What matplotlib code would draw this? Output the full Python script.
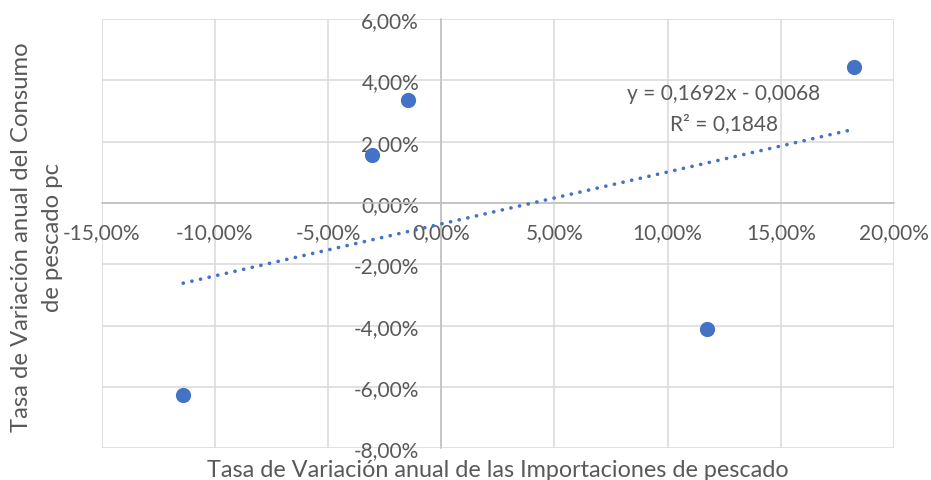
import numpy as np
import matplotlib.pyplot as plt
from matplotlib.ticker import FuncFormatter, MultipleLocator

# tasas de variacion anual (fraccion)
importaciones = [-0.1140, -0.0307, -0.0146, 0.1172, 0.1823]
consumo = [-0.0626, 0.0155, 0.0337, -0.0412, 0.0442]

eq_text = "y = 0,1692x - 0,0068"
r2_text = "R² = 0,1848"
xlabel = "Tasa de Variación anual de las Importaciones de pescado"
ylabel1 = "Tasa de Variación anual del Consumo"
ylabel2 = "de pescado pc"

azul = '#4472C4'
gris = '#595959'

plt.rcParams['font.family'] = ['Lato', 'DejaVu Sans']

fig = plt.figure(figsize=(9.31, 4.81), dpi=100)
ax = fig.add_axes([101.7 / 931, 1 - 449.3 / 481, (894 - 101.7) / 931, (449.3 - 20) / 481])

ax.set_xlim(-0.15, 0.20)
ax.set_ylim(-0.08, 0.06)
ax.xaxis.set_major_locator(MultipleLocator(0.05))
ax.yaxis.set_major_locator(MultipleLocator(0.02))
fmt = FuncFormatter(lambda v, p: ('%.2f%%' % (v * 100)).replace('.', ','))
ax.xaxis.set_major_formatter(fmt)
ax.yaxis.set_major_formatter(fmt)

ax.grid(True, color='#d9d9d9', linewidth=1.1)
for s in ['top', 'right']:
    ax.spines[s].set_visible(False)
ax.spines['left'].set_position(('data', 0))
ax.spines['bottom'].set_position(('data', 0))
ax.spines['left'].set_color('#bfbfbf')
ax.spines['bottom'].set_color('#bfbfbf')
ax.spines['left'].set_linewidth(1.1)
ax.spines['bottom'].set_linewidth(1.1)
ax.tick_params(axis='x', length=0, pad=14, labelsize=15, labelcolor=gris)
ax.tick_params(axis='y', length=0, pad=16, labelsize=15, labelcolor=gris)

ax.scatter(importaciones, consumo, s=120, color=azul, zorder=4, linewidths=0)

# linea de tendencia
x = np.array(importaciones)
b, a = np.polyfit(x, consumo, 1)
xt = np.array([x.min(), x.max()])
ax.plot(xt, b * xt + a, color=azul, linewidth=2.6, linestyle=(0, (0.05, 2.4)),
        dash_capstyle='round', zorder=3)

ax.text(0.1245, 0.0358, eq_text, ha='center', va='center', fontsize=15, color=gris)
ax.text(0.125, 0.0260, r2_text, ha='center', va='center', fontsize=15, color=gris)

fig.text(498 / 931, 1 - 470.5 / 481, xlabel, ha='center', va='center', fontsize=16.8, color=gris)
fig.text(22 / 931, 1 - 237 / 481, ylabel1, ha='center', va='center', rotation=90, fontsize=17.2, color=gris)
fig.text(53 / 931, 1 - 237 / 481, ylabel2, ha='center', va='center', rotation=90, fontsize=17.2, color=gris)

fig.savefig('out.png', dpi=100, facecolor='white')
